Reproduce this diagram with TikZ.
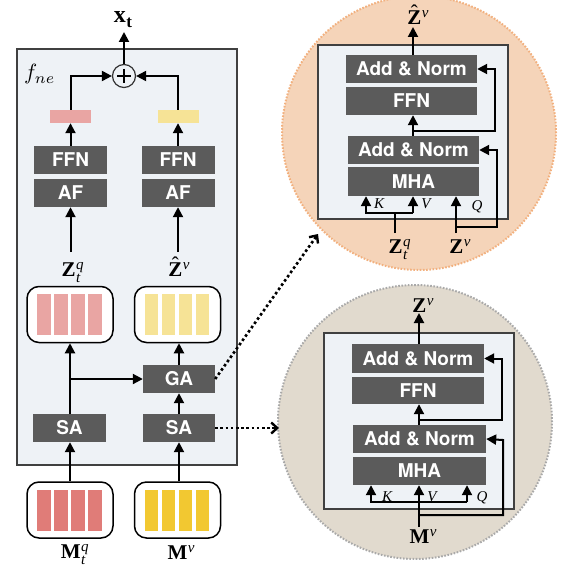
\documentclass[tikz,border=0pt]{standalone}
\usepackage{fontspec}
\usepackage{graphicx}
\setsansfont{TeX Gyre Heros}
\newfontfamily\tms{Liberation Serif}
\usetikzlibrary{arrows.meta,calc}
\definecolor{boxgray}{HTML}{5B5B5B}
\definecolor{bgblue}{HTML}{EEF2F6}
\definecolor{pinkL}{HTML}{E9A5A3}
\definecolor{yelL}{HTML}{F6E396}
\definecolor{pinkD}{HTML}{E07C78}
\definecolor{yelD}{HTML}{F2C831}
\definecolor{orfill}{HTML}{F5D4B9}
\definecolor{orline}{HTML}{F2B07E}
\definecolor{bgfill}{HTML}{E1DACE}
\definecolor{bgline}{HTML}{A9A9A9}
\newcommand{\ssc}{\fontsize{15}{15}\selectfont\mdseries\itshape}
\newcommand{\lsup}[2]{#1\kern0.5pt\raisebox{7pt}{\ssc #2}}
\newcommand{\lsubsup}[3]{#1\kern0.5pt\rlap{\raisebox{7pt}{\ssc #2}}\raisebox{-6pt}{\ssc #3}}
\newcommand{\hatZ}{\setbox0\hbox{Z}\rlap{\hbox to \wd0{\hss\raisebox{5pt}{\mdseries ˆ}\hss}}Z}
\tikzset{
  blk/.style={fill=boxgray, text=white, inner sep=0pt, font=\sffamily\bfseries\fontsize{19}{19}\selectfont},
  arr/.style={line width=2pt, -{Triangle[length=10pt,width=10pt]}},
  ln/.style={line width=2pt},
  dotarr/.style={line width=2.6pt, dash pattern=on 2.6pt off 2.6pt, -{Straight Barb[length=6pt,width=11pt,line width=2.4pt]}},
  lab/.style={inner sep=0pt, anchor=base, font=\tms\bfseries\fontsize{21}{21}\selectfont},
  qkv/.style={inner sep=0pt, anchor=base, font=\tms\itshape\fontsize{15}{15}\selectfont},
  rbox/.style={draw=black, line width=1.5pt, fill=white, rounded corners=12pt, minimum width=86pt, minimum height=56pt},
  frame/.style={draw=black!75, line width=1.2pt, fill=bgblue},
}
\begin{document}
\begin{tikzpicture}[x=1pt,y=-1pt]
\clip (0,0) rectangle (560,567);
\fill[white] (0,0) rectangle (560,567);

% ---------- left main block ----------
\draw[frame] (17,49) rectangle (237,465);
\node[inner sep=0pt, anchor=base west] (fne) at (24,80) {\scalebox{2.2}{$f_{ne}$}};

\node[blk, minimum width=73pt, minimum height=28pt] (ffnL) at (70.5,160) {FFN};
\node[blk, minimum width=73pt, minimum height=28pt] (afL) at (70.5,193) {AF};
\node[blk, minimum width=73pt, minimum height=28pt] (ffnR) at (178,160) {FFN};
\node[blk, minimum width=73pt, minimum height=28pt] (afR) at (178,193) {AF};
\node[fill=pinkL, minimum width=41pt, minimum height=13pt, inner sep=0pt] (barL) at (70.5,116.5) {};
\node[fill=yelL, minimum width=41pt, minimum height=13pt, inner sep=0pt] (barR) at (178,116.5) {};
\node[circle, draw=black!80, line width=1.2pt, minimum size=23pt, inner sep=0pt] (plus) at (124,76) {};
\draw[line width=1.5pt] ($(plus.center)+(-7,0)$) -- ($(plus.center)+(7,0)$);
\draw[line width=1.5pt] ($(plus.center)+(0,-7)$) -- ($(plus.center)+(0,7)$);
\node[lab, font=\tms\bfseries\fontsize{24}{24}\selectfont] (xt) at (123,23) {x\kern0.5pt\raisebox{-5pt}{\fontsize{17}{17}\selectfont t}};

\node[lab] (ztqL) at (71,276) {\lsubsup{Z}{q}{t}};
\node[lab] (zhatL) at (179,276) {\lsup{\hatZ}{v}};

\node[rbox] (rtL) at (70,314.5) {};
\node[rbox] (rtR) at (177.5,314.5) {};
\foreach \i in {0,1,2,3} {
  \fill[pinkL] (37.3+\i*17,294) rectangle ++(13.4,41);
  \fill[yelL] (145+\i*17,294) rectangle ++(13.4,41);
}

\node[blk, minimum width=72pt, minimum height=28pt] (ga) at (179,379) {GA};
\node[blk, minimum width=73pt, minimum height=28pt] (saL) at (69.5,428) {SA};
\node[blk, minimum width=72pt, minimum height=28pt] (saR) at (179,428) {SA};

\node[rbox] (rbL) at (70,510) {};
\node[rbox] (rbR) at (177.5,510) {};
\foreach \i in {0,1,2,3} {
  \fill[pinkD] (37.3+\i*17,490) rectangle ++(13.4,41);
  \fill[yelD] (145+\i*17,490) rectangle ++(13.4,41);
}
\node[lab] (mtq) at (73,558) {\lsubsup{M}{q}{t}};
\node[lab] (mv) at (181,559) {\lsup{M}{v}};

\draw[arr] ([yshift=24pt]ztqL.base -| afL.south) -- (afL.south);
\draw[arr] ([yshift=24pt]zhatL.base -| afR.south) -- (afR.south);
\draw[arr] (ffnL.north) -- (barL.south);
\draw[arr] (ffnR.north) -- (barR.south);
\draw[arr] (barL.north) |- (plus.west);
\draw[arr] (barR.north) |- (plus.east);
\draw[arr] (plus.north) -- (plus.north |- 0,32);
\draw[arr] (saL.north -| rtL.south) -- (rtL.south);
\draw[arr] (rtL.south |- ga.west) -- (ga.west);
\draw[arr] (ga.north) -- (ga.north |- rtR.south);
\draw[arr] (saR.north) -- (ga.south);
\draw[arr] (rbL.north) -- (rbL.north |- saL.south);
\draw[arr] (rbR.north -| saR.south) -- (saR.south);

% ---------- top circle ----------
\node[circle, fill=orfill, draw=orline, line width=2pt, dash pattern=on 1.6pt off 1.6pt, minimum size=274pt, inner sep=0pt] (c1) at (419,133) {};
\draw[frame] (318,45) rectangle (508,219);
\node[blk, minimum width=131pt, minimum height=28pt] (an1) at (411.5,69) {Add \& Norm};
\node[blk, minimum width=131pt, minimum height=28pt] (ffn1) at (411.5,101) {FFN};
\node[blk, minimum width=131pt, minimum height=28pt] (an2) at (413.5,150) {Add \& Norm};
\node[blk, minimum width=131pt, minimum height=29pt] (mha1) at (413.5,181.5) {MHA};
\node[lab] (zhat1) at (418,25) {\lsup{\hatZ}{v}};
\node[lab] (ztq1) at (398,253) {\lsubsup{Z}{q}{t}};
\node[lab] (zv1) at (460,253) {\lsup{Z}{v}};
\node[qkv] (k1) at (379,208) {K};
\node[qkv] (v1) at (426,208) {V};
\node[qkv] (q1) at (477,210) {Q};
\coordinate (kb1) at (366,213);
\coordinate (vb1) at (413,213);
\coordinate (zt1) at (395,233);
\coordinate (zq1) at (456,233);
\draw[arr] (an1.north -| 413,0) -- (413,27);
\draw[arr] (an2.north -| 413,0) -- (ffn1.south -| 413,0);
\draw[arr] (413,131) -| (495,69) -- (an1.east);
\draw[ln] (zt1) -- (zt1 |- kb1);
\draw[arr] (vb1) -- (kb1) -- (kb1 |- mha1.south);
\draw[arr] (vb1) -- (vb1 |- mha1.south);
\draw[arr] (zq1) -- (zq1 |- mha1.south);
\draw[arr] (456,227) -| (497,150) -- (an2.east);

% ---------- bottom circle ----------
\node[circle, fill=bgfill, draw=bgline, line width=2pt, dash pattern=on 1.6pt off 1.6pt, minimum size=274pt, inner sep=0pt] (c2) at (415,422) {};
\draw[frame] (324,333) rectangle (514,509);
\node[blk, minimum width=132pt, minimum height=29pt] (an3) at (418,358.5) {Add \& Norm};
\node[blk, minimum width=132pt, minimum height=27pt] (ffn3) at (418,390.5) {FFN};
\node[blk, minimum width=133pt, minimum height=28pt] (an4) at (419.5,439) {Add \& Norm};
\node[blk, minimum width=133pt, minimum height=28pt] (mha2) at (419.5,471) {MHA};
\node[lab] (zv2) at (423,312) {\lsup{Z}{v}};
\node[lab] (mv2) at (423,543) {\lsup{M}{v}};
\node[qkv] (k2) at (387,501) {K};
\node[qkv] (v2) at (432,501) {V};
\node[qkv] (q2) at (482,501) {Q};
\coordinate (kb2) at (371,502);
\coordinate (qb2) at (467,502);
\coordinate (mb2) at (419,527);
\draw[arr] (an3.north -| 419,0) -- (419,313);
\draw[arr] (an4.north -| 419,0) -- (ffn3.south -| 419,0);
\draw[arr] (419,420) -| (502,358.5) -- (an3.east);
\draw[arr] (mb2) -- (mb2 |- mha2.south);
\draw[arr] (qb2) -- (kb2) -- (kb2 |- mha2.south);
\draw[arr] (qb2) -- (qb2 |- mha2.south);
\draw[arr] (419,515) -| (503,440) -- (an4.east);

% ---------- dotted links ----------
\coordinate (t1) at (318,234);
\coordinate (t2) at (279,428);
\draw[dotarr] (ga.east) -- (t1);
\draw[dotarr] (saR.east) -- (t2);
\end{tikzpicture}
\end{document}
